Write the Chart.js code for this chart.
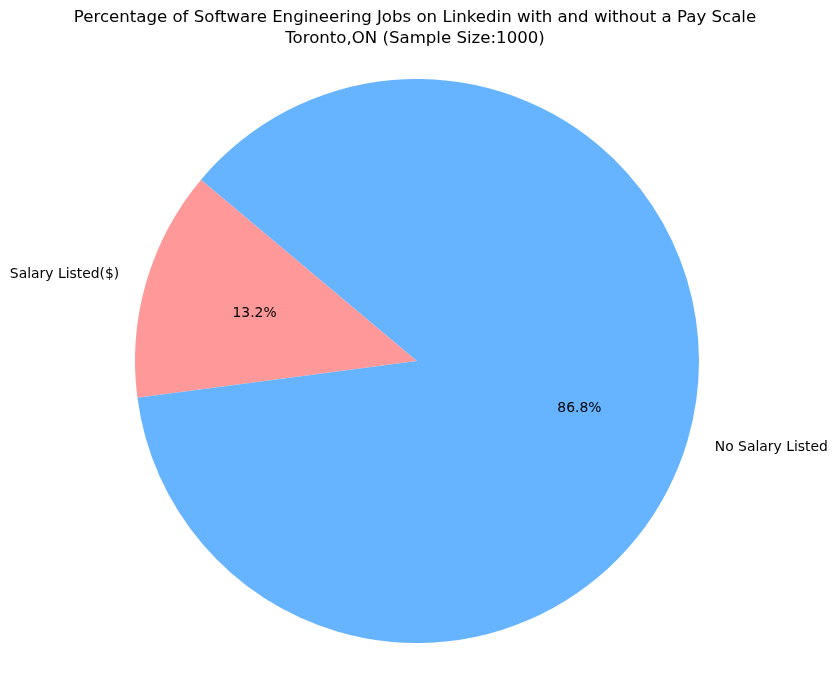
<!DOCTYPE html>
<html>
<head>
<meta charset="utf-8">
<script src="https://cdn.jsdelivr.net/npm/chart.js@4"></script>
<style>
  html, body { margin: 0; padding: 0; background: #ffffff; }
  canvas { display: block; }
</style>
</head>
<body>
<canvas id="pieChart" width="837" height="679"></canvas>
<script>
// Data
const categories = ['Salary Listed($)', 'No Salary Listed'];
const shares = [13.2, 86.8];
const sliceColors = ['#ff9999', '#66b3ff'];
const titleLines = [
    'Percentage of Software Engineering Jobs on Linkedin with and without a Pay Scale',
    'Toronto,ON (Sample Size:1000)'
];

// matplotlib-style text: title, outside labels, autopct inside
const pieText = {
    id: 'pieText',
    afterDraw(chart) {
        const ctx = chart.ctx;
        const arcs = chart.getDatasetMeta(0).data;
        ctx.save();
        ctx.fillStyle = '#000000';

        ctx.font = '16.6px "DejaVu Sans"';
        ctx.textAlign = 'center';
        ctx.textBaseline = 'middle';
        ctx.fillText(titleLines[0], 415, 18);
        ctx.fillText(titleLines[1], 415, 39);

        ctx.font = '13.9px "DejaVu Sans"';
        arcs.forEach((arc, i) => {
            const p = arc.getProps(['x', 'y', 'startAngle', 'endAngle', 'outerRadius']);
            const mid = (p.startAngle + p.endAngle) / 2;
            const cx = Math.cos(mid), cy = Math.sin(mid);

            // category label at 1.1 r
            const lx = p.x + cx * p.outerRadius * 1.1;
            const ly = p.y + cy * p.outerRadius * 1.1;
            ctx.textAlign = cx < 0 ? 'right' : 'left';
            ctx.fillText(categories[i], lx, ly);

            // percentage at 0.6 r
            const px = p.x + cx * p.outerRadius * 0.6;
            const py = p.y + cy * p.outerRadius * 0.6;
            ctx.textAlign = 'center';
            ctx.fillText(shares[i].toFixed(1) + '%', px, py);
        });
        ctx.restore();
    }
};

new Chart(document.getElementById('pieChart'), {
    type: 'pie',
    data: {
        labels: categories,
        datasets: [{
            data: shares,
            backgroundColor: sliceColors,
            borderWidth: 0,
            hoverOffset: 0
        }]
    },
    options: {
        responsive: false,
        animation: false,
        // first wedge starts at 140deg (matplotlib, ccw); chart.js runs clockwise
        rotation: 262.5,
        layout: {
            padding: { left: 135, right: 138, top: 79, bottom: 36 }
        },
        plugins: {
            legend: { display: false },
            title: { display: false },
            tooltip: { enabled: false }
        }
    },
    plugins: [pieText]
});
</script>
</body>
</html>
